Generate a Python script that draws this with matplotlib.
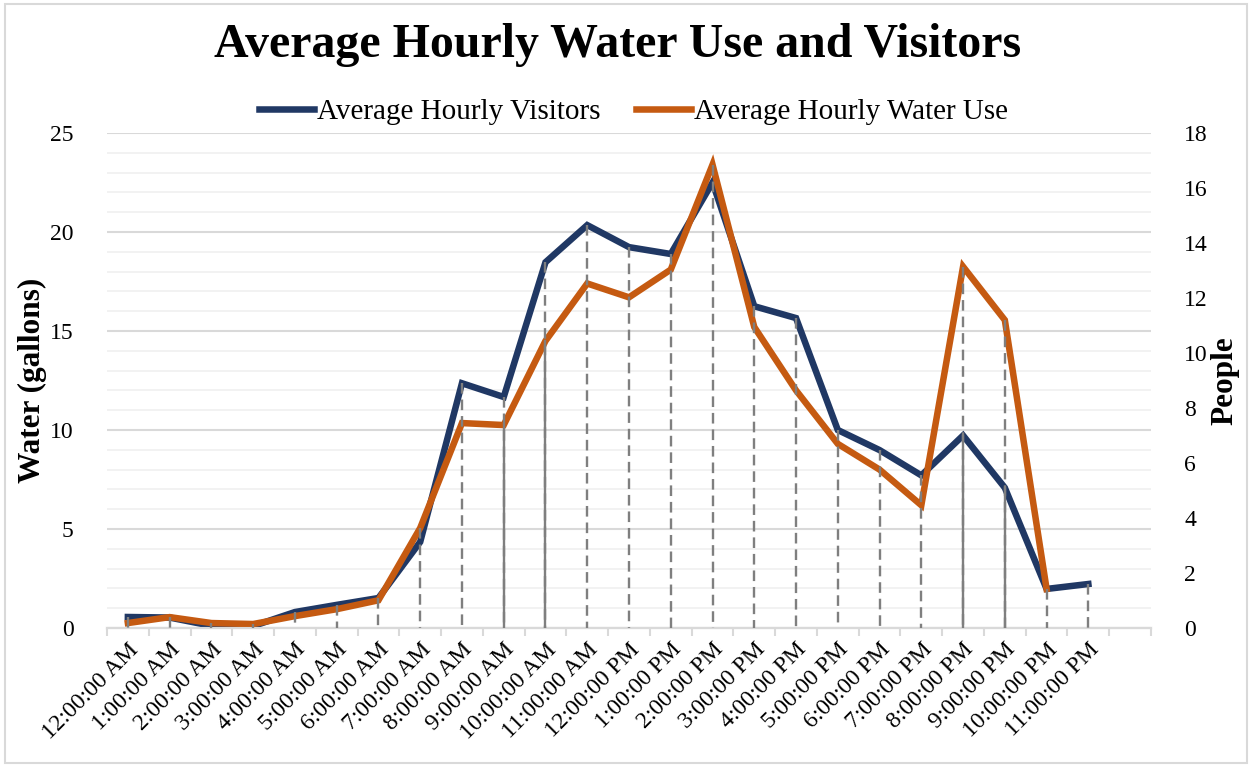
import matplotlib.pyplot as plt
import numpy as np
from matplotlib.patches import Rectangle

plt.rcParams['font.family'] = ['Liberation Serif', 'DejaVu Serif']

hours = ['12:00:00 AM', '1:00:00 AM', '2:00:00 AM', '3:00:00 AM', '4:00:00 AM',
         '5:00:00 AM', '6:00:00 AM', '7:00:00 AM', '8:00:00 AM', '9:00:00 AM',
         '10:00:00 AM', '11:00:00 AM', '12:00:00 PM', '1:00:00 PM', '2:00:00 PM',
         '3:00:00 PM', '4:00:00 PM', '5:00:00 PM', '6:00:00 PM', '7:00:00 PM',
         '8:00:00 PM', '9:00:00 PM', '10:00:00 PM', '11:00:00 PM']
visitors = [0.40, 0.38, 0.08, 0.07, 0.58, 0.84, 1.09, 3.13, 8.9, 8.4,
            13.3, 14.65, 13.85, 13.6, 16.2, 11.7, 11.27, 7.2, 6.47, 5.55,
            7.0, 5.1, 1.42, 1.6]
water = [0.25, 0.55, 0.25, 0.2, 0.6, 0.95, 1.4, 5.05, 10.35, 10.25,
         14.5, 17.4, 16.7, 18.1, 23.4, 15.2, 12.0, 9.3, 8.0, 6.2,
         18.25, 15.55, 1.97, np.nan]
# hours where the two drop lines overlap into a solid-looking line
solid_drop = ['9:00:00 AM', '10:00:00 AM', '8:00:00 PM', '9:00:00 PM']

blue = '#203864'
orange = '#C55A11'
grid_major = '#D9D9D9'
grid_minor = '#F0F0F0'
drop_col = '#7F7F7F'

fig = plt.figure(figsize=(12.52, 7.67), dpi=100)
ax = fig.add_axes([107 / 1252, 1 - 628 / 767, 1044 / 1252, 495 / 767])
ax2 = ax.twinx()
ax3 = ax.twinx()

x = np.arange(len(hours))
ax.set_xlim(-0.5, len(hours) + 0.5)
ax.set_ylim(0, 25)
ax2.set_ylim(0, 18)
ax3.set_ylim(0, 25)

# grid on the base axes
ax.set_yticks(np.arange(0, 26, 5))
ax.set_yticks(np.arange(0, 26, 1), minor=True)
ax.grid(axis='y', which='minor', color=grid_minor, lw=1.2)
ax.grid(axis='y', which='major', color=grid_major, lw=1.5)
ax.set_axisbelow(True)

ax2.plot(x, visitors, color=blue, lw=4.7, solid_joinstyle='miter', label='Average Hourly Visitors')
ax3.plot(x, water, color=orange, lw=4.7, solid_joinstyle='miter', label='Average Hourly Water Use')

# drop lines (in water units)
scale = ax.get_ylim()[1] / ax2.get_ylim()[1]
for i, h in enumerate(hours):
    vals = [v for v in (visitors[i] * scale, water[i]) if not np.isnan(v)]
    top, low = max(vals), min(vals)
    ax3.plot([i, i], [top, 0], color=drop_col, lw=1.7, ls=(0, (4.5, 2.5)), zorder=5)
    if h in solid_drop:
        ax3.plot([i, i], [low, 0], color=drop_col, lw=1.7, zorder=5)

for a in (ax, ax2, ax3):
    for s in ('left', 'right', 'top'):
        a.spines[s].set_visible(False)
    a.spines['bottom'].set_color(grid_major)
    a.spines['bottom'].set_linewidth(1.5)

ax.set_xticks(x)
ax.set_xticklabels(hours, rotation=45, ha='right', va='top', rotation_mode='anchor', fontsize=17)
ax.set_xticks(np.arange(-0.5, len(hours) + 1), minor=True)
ax.tick_params(axis='x', which='major', length=0, pad=8)
ax.tick_params(axis='x', which='minor', length=6, color=grid_major, width=1.5)
ax.tick_params(axis='y', which='both', length=0, labelsize=17, pad=24)

ax2.set_yticks(np.arange(0, 19, 2))
ax2.tick_params(axis='y', length=0, labelsize=17, pad=24)
ax3.set_yticks([])

ax.set_ylabel('Water (gallons)', fontsize=22.5, fontweight='bold', labelpad=2)
ax2.set_ylabel('People', fontsize=22.5, fontweight='bold', labelpad=2)

fig.text(0.493, 0.941, 'Average Hourly Water Use and Visitors', ha='center', va='center',
         fontsize=34.5, fontweight='bold')

h1, l1 = ax2.get_legend_handles_labels()
h2, l2 = ax3.get_legend_handles_labels()
fig.legend(h1 + h2, l1 + l2, loc='center', bbox_to_anchor=(0.506, 1 - 112 / 767), ncol=2,
           frameon=False, fontsize=21, handlelength=1.9, handletextpad=0.1, columnspacing=1.2)

fig.patches.append(Rectangle((5 / 1252, 4 / 767), 1 - 10 / 1252, 1 - 8 / 767, transform=fig.transFigure,
                             fill=False, edgecolor='#D9D9D9', lw=1.5))

fig.savefig('out.png', dpi=100)
